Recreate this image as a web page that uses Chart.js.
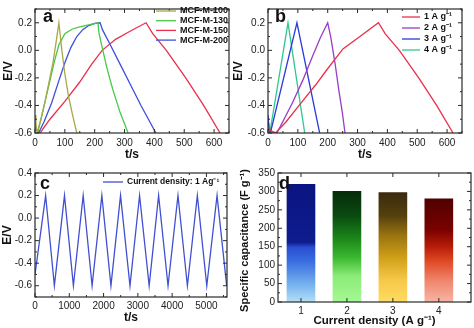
<!DOCTYPE html>
<html>
<head>
<meta charset="utf-8">
<script src="https://cdn.jsdelivr.net/npm/chart.js@4.4.1/dist/chart.umd.min.js"></script>
<style>
html, body { margin: 0; padding: 0; background: #fff; }
#wrap { position: relative; width: 474px; height: 328px; overflow: hidden; }
canvas { position: absolute; }
</style>
</head>
<body>
<div id="wrap">
  <canvas id="chartA" width="237" height="164" style="left:0;top:0"></canvas>
  <canvas id="chartB" width="246" height="164" style="left:228px;top:0"></canvas>
  <canvas id="chartC" width="237" height="164" style="left:0;top:164px"></canvas>
  <canvas id="chartD" width="237" height="164" style="left:237px;top:164px"></canvas>
</div>
<script>
// ---- (a) charge/discharge curves of the four samples ----
const tM100 = [0, 3, 8, 20, 33, 47, 61, 72, 80, 84, 90, 100, 112, 126, 140];
const eM100 = [-0.47, -0.56, -0.59, -0.5, -0.38, -0.23, -0.08, 0.08, 0.2, 0.12, 0.0, -0.17, -0.33, -0.47, -0.6];
const tM130 = [0, 4, 10, 20, 35, 50, 65, 80, 100, 125, 150, 180, 211, 214, 222, 240, 260, 285, 312];
const eM130 = [-0.5, -0.57, -0.59, -0.5, -0.36, -0.22, -0.08, 0.04, 0.12, 0.155, 0.17, 0.185, 0.2, 0.13, 0.05, -0.12, -0.28, -0.45, -0.6];
const tM150 = [0, 6, 17, 50, 100, 150, 190, 225, 270, 320, 372, 395, 440, 505, 565, 620];
const eM150 = [-0.55, -0.58, -0.6, -0.5, -0.37, -0.23, -0.1, 0.0, 0.08, 0.14, 0.2, 0.12, 0.0, -0.2, -0.4, -0.6];
const tM200 = [0, 5, 12, 30, 56, 80, 100, 120, 140, 160, 180, 200, 218, 226, 250, 285, 320, 355, 380, 405];
const eM200 = [-0.55, -0.58, -0.6, -0.52, -0.38, -0.22, -0.09, 0.02, 0.1, 0.15, 0.18, 0.195, 0.2, 0.15, 0.05, -0.1, -0.25, -0.4, -0.5, -0.6];

// ---- (b) MCF-M-150 at different current densities ----
const tJ1 = [0, 12, 25, 60, 115, 160, 194, 251, 308, 370, 393, 440, 505, 565, 620];
const eJ1 = [-0.57, -0.59, -0.6, -0.52, -0.37, -0.25, -0.15, 0.01, 0.1, 0.2, 0.12, 0.0, -0.2, -0.4, -0.6];
const tJ2 = [0, 15, 30, 82, 116, 150, 175, 200, 210, 225, 238, 249, 258];
const eJ2 = [-0.56, -0.59, -0.6, -0.38, -0.22, -0.04, 0.09, 0.2, 0.1, -0.1, -0.3, -0.45, -0.6];
const tJ3 = [0, 4, 8, 97, 173];
const eJ3 = [-0.47, -0.58, -0.6, 0.2, -0.6];
const tJ4 = [0, 3, 6, 67, 123];
const eJ4 = [-0.53, -0.58, -0.6, 0.2, -0.6];

// ---- (c) cycling at 1 A/g ----
const tCycle = [0, 310, 565, 860, 1120, 1405, 1665, 1950, 2215, 2495, 2770, 3050, 3330, 3605, 3880, 4170, 4445, 4735, 5010, 5310, 5590];
const eCycle = [-0.5, 0.2, -0.6, 0.2, -0.6, 0.2, -0.6, 0.2, -0.6, 0.2, -0.6, 0.2, -0.6, 0.2, -0.6, 0.2, -0.6, 0.2, -0.6, 0.2, -0.6];

// ---- (d) specific capacitance ----
const densities = [1, 2, 3, 4];
const capacitance = [319, 300, 297, 280];

// tick labels
const tTicks = [0, 100, 200, 300, 400, 500, 600];
const eTicks = [-0.6, -0.4, -0.2, 0.0, 0.2];
const cycleTicks = [0, 1000, 2000, 3000, 4000, 5000];
const cycleETicks = [-0.6, -0.4, -0.2, 0.0, 0.2, 0.4];
const capTicks = [0, 50, 100, 150, 200, 250, 300, 350];

const FONT = "'Liberation Sans', Arial, Helvetica, sans-serif";
Chart.defaults.font.family = FONT;
Chart.defaults.color = '#222';

const pts = (t, e) => t.map((v, i) => ({ x: v, y: e[i] }));

// frame box with inward major/minor ticks on all four sides
const frameTicks = {
  id: 'frameTicks',
  afterDatasetsDraw(chart, args, o) {
    const { ctx, chartArea: a, scales: { x, y } } = chart;
    ctx.save();
    ctx.strokeStyle = '#2a2a2a';
    ctx.lineWidth = 1.2;
    ctx.strokeRect(a.left, a.top, a.right - a.left, a.bottom - a.top);
    ctx.lineWidth = 1;
    const marks = (scale, minorOn) => {
      const vals = scale.ticks.map(t => t.value);
      const out = vals.map(v => [v, 4]);
      if (minorOn && vals.length > 1) {
        const step = vals[1] - vals[0];
        for (let v = vals[0] - step / 2; v <= scale.max + 1e-9; v += step) {
          if (v >= scale.min - 1e-9) out.push([v, 2]);
        }
      }
      return out;
    };
    ctx.beginPath();
    marks(x, o.minorX !== false).forEach(([v, len]) => {
      const px = x.getPixelForValue(v);
      ctx.moveTo(px, a.bottom); ctx.lineTo(px, a.bottom - len);
      ctx.moveTo(px, a.top); ctx.lineTo(px, a.top + len);
    });
    marks(y, true).forEach(([v, len]) => {
      const py = y.getPixelForValue(v);
      ctx.moveTo(a.left, py); ctx.lineTo(a.left + len, py);
      ctx.moveTo(a.right, py); ctx.lineTo(a.right - len, py);
    });
    ctx.stroke();
    if (o.tag) {
      ctx.fillStyle = '#111';
      ctx.font = 'bold 18px ' + FONT;
      ctx.textBaseline = 'alphabetic';
      ctx.fillText(o.tag, o.tagX, o.tagY);
    }
    ctx.restore();
  }
};

// line-sample key drawn inside the plot
const lineKey = {
  id: 'lineKey',
  afterDatasetsDraw(chart, args, o) {
    if (!o || o.x === undefined) return;
    const ctx = chart.ctx;
    ctx.save();
    ctx.font = 'bold ' + o.size + 'px ' + FONT;
    ctx.textBaseline = 'middle';
    chart.data.datasets.forEach((ds, i) => {
      const y = o.y + i * o.gap;
      ctx.strokeStyle = ds.borderColor;
      ctx.lineWidth = 1.3;
      ctx.beginPath();
      ctx.moveTo(o.x, y);
      ctx.lineTo(o.x + o.len, y);
      ctx.stroke();
      ctx.fillStyle = '#111';
      ctx.fillText(ds.label, o.x + o.len + 4, y);
    });
    ctx.restore();
  }
};

// rotated y title drawn without width limit (longer than the axis itself)
const sideTitle = {
  id: 'sideTitle',
  afterDraw(chart, args, o) {
    if (!o || !o.text) return;
    const { ctx, chartArea: a } = chart;
    ctx.save();
    ctx.translate(o.x, (a.top + a.bottom) / 2 + (o.dy || 0));
    ctx.rotate(-Math.PI / 2);
    ctx.font = 'bold ' + o.size + 'px ' + FONT;
    ctx.fillStyle = '#111';
    ctx.textAlign = 'center';
    ctx.textBaseline = 'middle';
    ctx.fillText(o.text, 0, 0);
    ctx.restore();
  }
};

function axis(o) {
  return {
    type: 'linear',
    min: o.min,
    max: o.max,
    offset: false,
    grid: { display: false, drawTicks: false, offset: false },
    border: { display: false },
    afterBuildTicks: s => { s.ticks = o.ticks.map(v => ({ value: v })); },
    afterFit: s => {
      if (o.width) s.width = o.width;
      if (o.height) s.height = o.height;
    },
    ticks: {
      padding: o.pad,
      autoSkip: false,
      maxRotation: 0,
      font: { size: 10 },
      color: '#222',
      callback: o.fmt || (v => v)
    },
    title: {
      display: !!o.title,
      text: o.title,
      color: '#111',
      font: { size: o.titleSize || 12, weight: 'bold' },
      padding: o.titlePad
    }
  };
}

function curveChart(id, sets, xOpt, yOpt, pad, extra) {
  return new Chart(document.getElementById(id), {
    type: 'line',
    data: {
      datasets: sets.map(s => ({
        label: s.label,
        data: s.data,
        borderColor: s.color,
        borderWidth: 1.3,
        pointRadius: 0,
        tension: 0,
        fill: false
      }))
    },
    options: {
      responsive: false,
      animation: false,
      layout: { padding: pad },
      scales: { x: axis(xOpt), y: axis(yOpt) },
      plugins: {
        legend: { display: false },
        tooltip: { enabled: false },
        frameTicks: extra.frame,
        lineKey: extra.key
      }
    },
    plugins: [frameTicks, lineKey]
  });
}

const fmt1 = v => v.toFixed(1);

// (a)
curveChart('chartA', [
  { label: 'MCF-M-100', data: pts(tM100, eM100), color: '#a8a848' },
  { label: 'MCF-M-130', data: pts(tM130, eM130), color: '#48c848' },
  { label: 'MCF-M-150', data: pts(tM150, eM150), color: '#e8304c' },
  { label: 'MCF-M-200', data: pts(tM200, eM200), color: '#3c50dc' }
],
{ min: 0, max: 650, ticks: tTicks, pad: 4, height: 31, title: 't/s', titlePad: { top: 1, bottom: 2 } },
{ min: -0.6, max: 0.3, ticks: eTicks, pad: 3, width: 35, fmt: fmt1, title: 'E/V', titlePad: { top: 1, bottom: 1 } },
{ top: 2, right: 8 },
{ frame: { tag: 'a', tagX: 43, tagY: 22 }, key: { x: 156, y: 11, gap: 9.7, len: 20, size: 9 } });

// (b)
curveChart('chartB', [
  { label: '1 A g\u207B\u00B9', data: pts(tJ1, eJ1), color: '#e8304c' },
  { label: '2 A g\u207B\u00B9', data: pts(tJ2, eJ2), color: '#9a3cc8' },
  { label: '3 A g\u207B\u00B9', data: pts(tJ3, eJ3), color: '#2a3cd8' },
  { label: '4 A g\u207B\u00B9', data: pts(tJ4, eJ4), color: '#30c890' }
],
{ min: 0, max: 650, ticks: tTicks, pad: 4, height: 31, title: 't/s', titlePad: { top: 1, bottom: 2 } },
{ min: -0.6, max: 0.3, ticks: eTicks, pad: 3, width: 40, fmt: fmt1, title: 'E/V', titlePad: { top: 3, bottom: 1 } },
{ top: 2, right: 12 },
{ frame: { tag: 'b', tagX: 47, tagY: 22 }, key: { x: 174, y: 17, gap: 11, len: 18, size: 9 } });

// (c)
curveChart('chartC', [
  { label: 'Current density: 1 Ag\u207B\u00B9', data: pts(tCycle, eCycle), color: '#4050d0' }
],
{ min: 0, max: 5600, ticks: cycleTicks, pad: 3, height: 31, title: 't/s', titlePad: { top: 1, bottom: 3 } },
{ min: -0.7, max: 0.4, ticks: cycleETicks, pad: 3, width: 35, fmt: fmt1, title: 'E/V', titlePad: { top: 0, bottom: 1 } },
{ top: 6, right: 10 },
{ frame: { tag: 'c', tagX: 40, tagY: 25 }, key: { x: 103, y: 18, gap: 10, len: 20, size: 8.5 } });

// (d) bars with vertical colour ramps
const barShades = [
  [[0, '#b4e0f6'], [45, '#78b4ee'], [110, '#3a6ee0'], [148, '#2a4ed2'], [162, '#0e1c8e'], [320, '#0a1480']],
  [[0, '#a4f894'], [70, '#8cec78'], [120, '#3cb830'], [175, '#1a8418'], [235, '#0a4a10'], [300, '#062c0a']],
  [[0, '#ffdc64'], [60, '#f6c848'], [120, '#d0a018'], [180, '#9a7410'], [235, '#54400e'], [297, '#3a2a0e']],
  [[0, '#f8b4a4'], [55, '#f08870'], [110, '#e04a24'], [150, '#b81c08'], [195, '#7a0200'], [280, '#500000']]
];

new Chart(document.getElementById('chartD'), {
  type: 'bar',
  data: {
    datasets: [{
      data: pts(densities, capacitance),
      barThickness: 28,
      backgroundColor: c => {
        const { chart, dataIndex } = c;
        const area = chart.chartArea;
        if (!area) return '#888';
        const ys = chart.scales.y;
        const y0 = ys.getPixelForValue(0), y1 = ys.getPixelForValue(350);
        const g = chart.ctx.createLinearGradient(0, y0, 0, y1);
        barShades[dataIndex].forEach(([v, col]) => g.addColorStop(Math.min(v / 350, 1), col));
        return g;
      }
    }]
  },
  options: {
    responsive: false,
    animation: false,
    layout: { padding: { top: 5, right: 3 } },
    scales: {
      x: axis({ min: 0.5, max: 4.7, ticks: densities, pad: 3, height: 26, title: 'Current density (A g\u207B\u00B9)', titleSize: 11.5, titlePad: { top: 0, bottom: 0 } }),
      y: axis({ min: 0, max: 350, ticks: capTicks, pad: 3, width: 41 })
    },
    plugins: {
      legend: { display: false },
      tooltip: { enabled: false },
      frameTicks: { minorX: false, tag: 'd', tagX: 42, tagY: 25 },
      sideTitle: { text: 'Specific capacitance (F g\u207B\u00B9)', size: 11, x: 8, dy: 3 }
    }
  },
  plugins: [frameTicks, sideTitle]
});
</script>
</body>
</html>
